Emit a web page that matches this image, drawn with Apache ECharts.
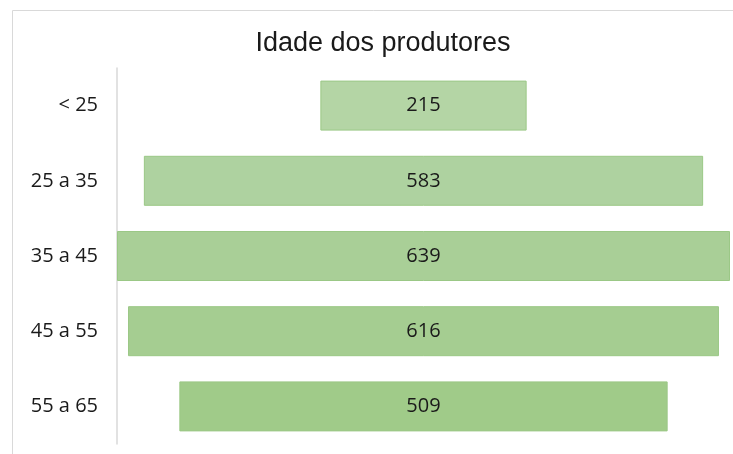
<!DOCTYPE html>
<html>
<head>
<meta charset="utf-8">
<script src="https://cdn.jsdelivr.net/npm/echarts@6/dist/echarts.min.js"></script>
<style>
  html, body { margin: 0; padding: 0; background: #fff; }
  #chart { width: 733px; height: 454px; }
</style>
</head>
<body>
<div id="chart"></div>
<script>
// faixas etarias e numero de produtores
const faixas = ['< 25', '25 a 35', '35 a 45', '45 a 55', '55 a 65']
const produtores = [215, 583, 639, 616, 509]
const cores = ['#b4d5a5', '#aed2a0', '#a9cf97', '#a5cd91', '#a0cb89']

const maximo = Math.max(...produtores)
// espaco invisivel a esquerda para centralizar as barras
const recuo = produtores.map(v => (maximo - v) / 2)

const chart = echarts.init(document.getElementById('chart'))
const option = {
  animation: false,
  title: {
    text: 'Idade dos produtores',
    left: 378,
    top: 25,
    textAlign: 'center',
    textStyle: {
      fontFamily: 'Liberation Sans',
      fontSize: 27,
      fontWeight: 'normal',
      color: '#1a1a1a'
    }
  },
  graphic: [{
    type: 'rect',
    shape: { x: 12.5, y: 10.5, width: 740, height: 460 },
    style: { fill: 'none', stroke: '#d9d9d9', lineWidth: 1 },
    silent: true
  }],
  grid: {
    top: 68,
    bottom: 10,
    left: 117,
    right: 3
  },
  xAxis: {
    type: 'value',
    min: 0,
    max: maximo,
    show: false
  },
  yAxis: {
    type: 'category',
    data: faixas,
    inverse: true,
    axisLine: { show: true, lineStyle: { color: '#d9d9d9', width: 1.5 } },
    axisTick: { show: false },
    axisLabel: {
      margin: 19,
      fontFamily: 'Open Sans',
      fontSize: 20,
      color: '#1a1a1a'
    }
  },
  series: [
    {
      type: 'bar',
      stack: 'total',
      data: recuo,
      itemStyle: { color: 'transparent' },
      silent: true
    },
    {
      type: 'bar',
      stack: 'total',
      barWidth: 50,
      data: produtores.map((v, i) => ({
        value: v,
        itemStyle: { color: cores[i], borderColor: '#9bc886', borderWidth: 1 }
      })),
      label: {
        show: true,
        position: 'inside',
        fontFamily: 'Open Sans',
        fontSize: 20,
        color: '#1a1a1a'
      }
    }
  ]
}
chart.setOption(option)
window.addEventListener('resize', () => chart.resize())
</script>
</body>
</html>
